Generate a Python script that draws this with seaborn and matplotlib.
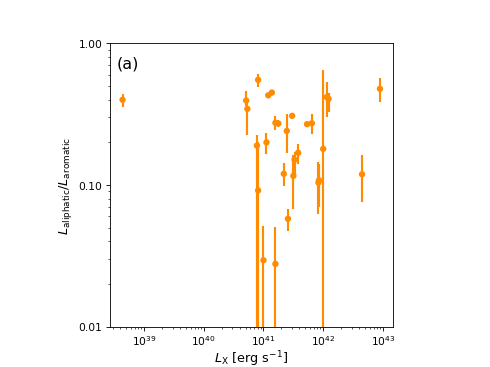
import numpy as np
import pandas as pd
import matplotlib
matplotlib.use("Agg")
import matplotlib.pyplot as plt
import matplotlib.ticker as mticker
import seaborn as sns

# log10 of X-ray luminosity (erg/s)
log_lx = [38.64, 40.71, 40.73, 40.91, 40.89, 40.91, 41.00, 41.05, 41.08, 41.14,
          41.20, 41.25, 41.20, 41.39, 41.34, 41.41, 41.48, 41.50, 41.52, 41.58,
          41.73, 41.81, 41.92, 41.93, 42.00, 42.06, 42.09, 42.65, 42.95]
# aliphatic / aromatic ratio
ratio = [0.40, 0.395, 0.345, 0.553, 0.19, 0.0915, 0.0294, 0.20, 0.43, 0.45,
         0.275, 0.272, 0.0277, 0.241, 0.12, 0.0577, 0.308, 0.116, 0.151, 0.169,
         0.269, 0.273, 0.104, 0.108, 0.180, 0.418, 0.406, 0.119, 0.478]
ratio_lo = [0.358, 0.36, 0.227, 0.49, 0.001, 0.001, 0.001, 0.166, 0.415, 0.435,
            0.244, 0.255, 0.001, 0.167, 0.098, 0.0477, 0.298, 0.068, 0.12, 0.141,
            0.258, 0.231, 0.062, 0.07, 0.001, 0.303, 0.33, 0.0756, 0.385]
ratio_hi = [0.441, 0.46, 0.39, 0.61, 0.226, 0.2, 0.0517, 0.234, 0.445, 0.465,
            0.306, 0.29, 0.0506, 0.318, 0.143, 0.0679, 0.318, 0.164, 0.17, 0.195,
            0.28, 0.318, 0.145, 0.14, 0.644, 0.536, 0.45, 0.162, 0.572]

df = pd.DataFrame({"lx": 10 ** np.array(log_lx), "ratio": ratio})
yerr = [np.array(ratio) - np.array(ratio_lo), np.array(ratio_hi) - np.array(ratio)]

fig, ax = plt.subplots(figsize=(6.4, 4.8))
ax.set_box_aspect(1)

ax.errorbar(df["lx"], df["ratio"], yerr=yerr, fmt="none",
            ecolor="darkorange", elinewidth=2)
sns.scatterplot(data=df, x="lx", y="ratio", ax=ax, color="darkorange",
                s=36, edgecolor="none", zorder=3)

ax.set_xscale("log")
ax.set_yscale("log")
ax.set_ylim(0.01, 1.0)
ax.yaxis.set_major_formatter(mticker.FormatStrFormatter("%.2f"))
ax.yaxis.set_minor_formatter(mticker.NullFormatter())

ax.set_xlabel(r"$L_{\rm X}$ [erg s$^{-1}$]", fontsize=12, labelpad=0.5)
ax.set_ylabel(r"$L_{\rm aliphatic}/L_{\rm aromatic}$", fontsize=12)
ax.text(0.025, 0.955, "(a)", transform=ax.transAxes, fontsize=15, va="top")

fig.savefig("out.png", dpi=76.6)
